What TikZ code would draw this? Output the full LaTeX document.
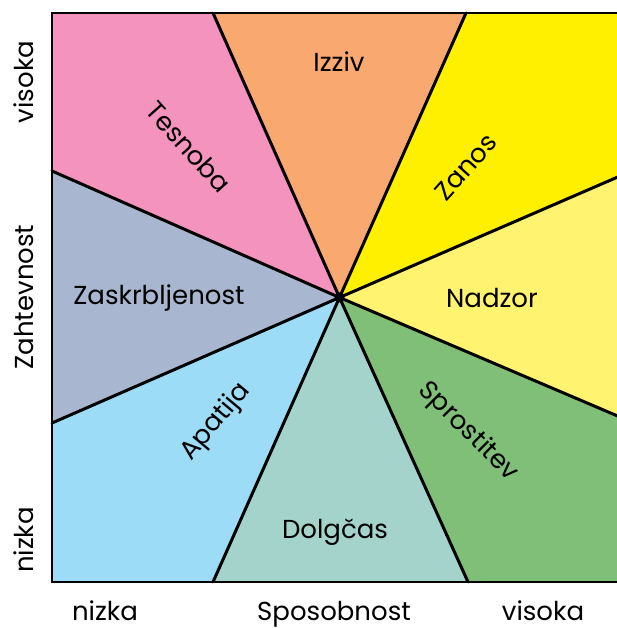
\documentclass[tikz,border=0pt]{standalone}
\usepackage{fontspec}
\setmainfont{Poppins}
\definecolor{cpink}{HTML}{F393BE}
\definecolor{corange}{HTML}{F9A870}
\definecolor{cyellow}{HTML}{FFF000}
\definecolor{clyellow}{HTML}{FFF36F}
\definecolor{cgreen}{HTML}{80BF78}
\definecolor{cteal}{HTML}{A4D3CC}
\definecolor{cblue}{HTML}{9DDCF6}
\definecolor{cgray}{HTML}{A9B6CF}
\tikzset{
  lbl/.style={font=\fontsize{26}{29}\selectfont, text=black, inner sep=0pt},
  axl/.style={font=\fontsize{26}{29}\selectfont, text=black, inner sep=0pt},
  xaxl/.style={axl, anchor=base, text height=19pt, text depth=0pt},
  ray/.style={line width=3pt, black, line cap=round},
  frame/.style={line width=2.6pt, black}
}
\begin{document}
\begin{tikzpicture}[x=1pt,y=1pt]
\useasboundingbox (0,0) rectangle (617,628);
\clip (0,0) rectangle (617,628);
\coordinate (C) at (339.5,330.5);
\coordinate (TL) at (52,615);
\coordinate (T1) at (213,615);
\coordinate (T2) at (466,615);
\coordinate (TR) at (627,615);
\coordinate (R1) at (627,455);
\coordinate (R2) at (627,208);
\coordinate (BR) at (627,46);
\coordinate (B2) at (468,46);
\coordinate (B1) at (213,46);
\coordinate (BL) at (52,46);
\coordinate (L2) at (52,205);
\coordinate (L1) at (52,457);
\fill[cpink] (C) -- (L1) -- (TL) -- (T1) -- cycle;
\fill[corange] (C) -- (T1) -- (T2) -- cycle;
\fill[cyellow] (C) -- (T2) -- (TR) -- (R1) -- cycle;
\fill[clyellow] (C) -- (R1) -- (R2) -- cycle;
\fill[cgreen] (C) -- (R2) -- (BR) -- (B2) -- cycle;
\fill[cteal] (C) -- (B2) -- (B1) -- cycle;
\fill[cblue] (C) -- (B1) -- (BL) -- (L2) -- cycle;
\fill[cgray] (C) -- (L2) -- (L1) -- cycle;
\foreach \p in {T1,T2,R1,R2,B2,B1,L2,L1} \draw[ray] (C) -- (\p);
\draw[frame] (BR) -- (BL) -- (TL) -- (TR);
\fill[black] (C) circle (5pt);
\node[lbl] (izziv) at (339,566) {Izziv};
\node[lbl, rotate=-48] (tesnoba) at (189,481) {Tesnoba};
\node[lbl, rotate=48] (zanos) at (466,461) {Zanos};
\node[lbl] (zaskrb) at (159,330) {Zaskrbljenost};
\node[lbl] (nadzor) at (492,330) {Nadzor};
\node[lbl, rotate=50] (apatija) at (216,206) {Apatija};
\node[lbl, rotate=-45] (sprost) at (468,196) {Sprostitev};
\node[lbl] (dolgcas) at (335,96) {Dolgčas};
\node[axl, rotate=90] (yhigh) at (24,546) {visoka};
\node[axl, rotate=90] (ytitle) at (24,331) {Zahtevnost};
\node[axl, rotate=90] (ylow) at (24,88) {nizka};
\node[xaxl] (xlow) at (105,7) {nizka};
\node[xaxl] (xtitle) at (334,7) {Sposobnost};
\node[xaxl] (xhigh) at (543,7) {visoka};
\end{tikzpicture}
\end{document}
